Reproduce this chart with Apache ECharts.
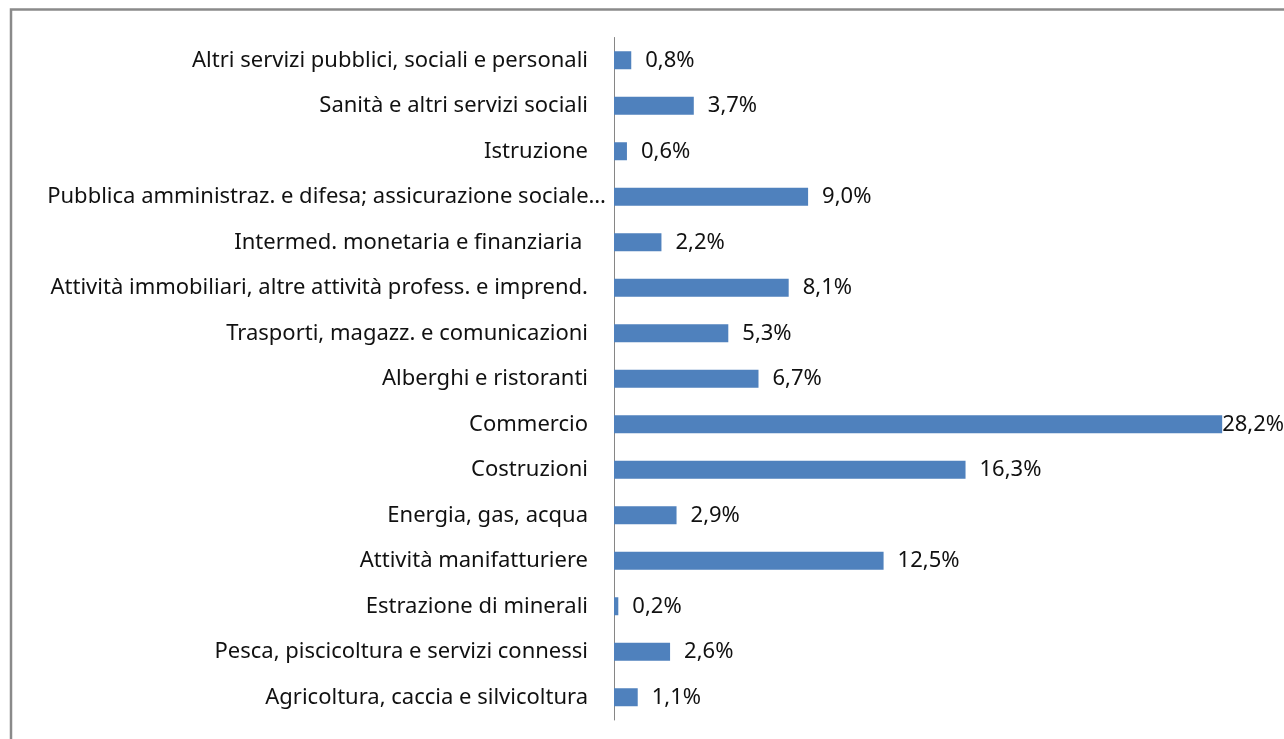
<!DOCTYPE html>
<html>
<head>
<meta charset="utf-8">
<script src="https://cdn.jsdelivr.net/npm/echarts@6/dist/echarts.min.js"></script>
<style>
html,body{margin:0;padding:0;background:#fff;}
#c{width:1284px;height:739px;}
</style>
</head>
<body>
<div id="c"></div>
<script>
var categories = [
  "Agricoltura, caccia e silvicoltura",
  "Pesca, piscicoltura e servizi connessi",
  "Estrazione di minerali",
  "Attività manifatturiere",
  "Energia, gas, acqua",
  "Costruzioni",
  "Commercio",
  "Alberghi e ristoranti",
  "Trasporti, magazz. e comunicazioni",
  "Attività immobiliari, altre attività profess. e imprend.",
  "Intermed. monetaria e finanziaria ",
  "Pubblica amministraz. e difesa; assicurazione sociale…",
  "Istruzione",
  "Sanità e altri servizi sociali",
  "Altri servizi pubblici, sociali e personali"
];
var values = [1.1, 2.6, 0.2, 12.5, 2.9, 16.3, 28.2, 6.7, 5.3, 8.1, 2.2, 9.0, 0.6, 3.7, 0.8];

var FONT = "Noto Sans";
var maxVal = Math.max.apply(null, values);
var seriesData = values.map(function (v) {
  var item = { value: v };
  if (v === maxVal) { item.label = { distance: 0 }; }
  return item;
});
var categoryData = categories.map(function (c) {
  var item = { value: c };
  if (c.indexOf('…') >= 0) { item.textStyle = { padding: [0, -18, 0, 0] }; }
  return item;
});

var chart = echarts.init(document.getElementById('c'), null, { renderer: 'canvas' });
chart.setOption({
  animation: false,
  backgroundColor: '#ffffff',
  grid: { left: 614, top: 37.5, width: 647, height: 682.5, containLabel: false },
  xAxis: {
    type: 'value', min: 0, max: 30,
    show: false, splitLine: { show: false }
  },
  yAxis: {
    type: 'category',
    data: categoryData,
    axisLine: { show: true, lineStyle: { color: '#868686', width: 1 } },
    axisTick: { show: false },
    axisLabel: { color: '#111111', fontFamily: FONT, fontSize: 22, margin: 26 }
  },
  series: [{
    type: 'bar',
    data: seriesData,
    barWidth: 18,
    itemStyle: { color: '#4F81BD' },
    label: {
      show: true, position: 'right', distance: 14,
      color: '#111111', fontFamily: FONT, fontSize: 22,
      formatter: function (p) { return p.value.toFixed(1).replace('.', ',') + '%'; }
    }
  }],
  graphic: [{
    type: 'rect',
    shape: { x: 11, y: 9.5, width: 1400, height: 800 },
    style: { fill: 'none', stroke: '#8a8a8a', lineWidth: 2.5 },
    silent: true
  }]
});
</script>
</body>
</html>
